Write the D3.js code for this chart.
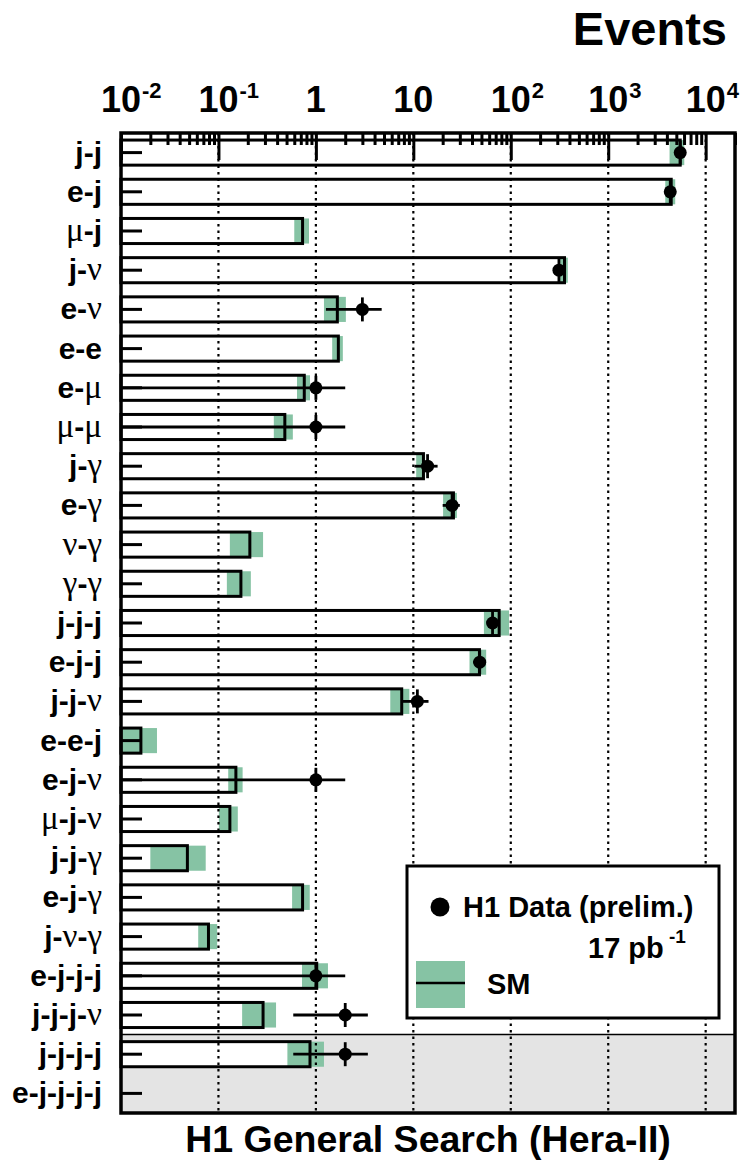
<!DOCTYPE html>
<html>
<head>
<meta charset="utf-8">
<script src="https://cdn.jsdelivr.net/npm/d3@7"></script>
<style>
  body { margin: 0; background: #fff; }
  svg { display: block; }
  text { font-family: "Liberation Sans", Arial, Helvetica, sans-serif; font-weight: bold; fill: #000; }
</style>
</head>
<body>
<div id="chart-area"></div>
<script>
/*
*    H1 General Search (Hera-II) - event yields per final state
*/

// final state categories (top to bottom)
var categories = ["j-j", "e-j", "μ-j", "j-ν", "e-ν", "e-e", "e-μ", "μ-μ", "j-γ", "e-γ",
	"ν-γ", "γ-γ", "j-j-j", "e-j-j", "j-j-ν", "e-e-j", "e-j-ν", "μ-j-ν", "j-j-γ", "e-j-γ",
	"j-ν-γ", "e-j-j-j", "j-j-j-ν", "j-j-j-j", "e-j-j-j-j"]

// SM expectation, and its uncertainty band (low / high)
var smValues = [5480, 4430, 0.73, 356, 1.66, 1.70, 0.76, 0.48, 12.7, 25.8,
	0.21, 0.17, 76, 47.7, 7.6, 0.016, 0.151, 0.131, 0.048, 0.73,
	0.079, 1.02, 0.287, 0.87, null]
var smLow = [4260, 3850, 0.60, 307, 1.21, 1.47, 0.64, 0.37, 10.7, 20.2,
	0.131, 0.122, 53, 37.7, 5.8, 0.008, 0.126, 0.101, 0.020, 0.57,
	0.062, 0.72, 0.175, 0.51, null]
var smHigh = [6030, 4870, 0.85, 385, 2.03, 1.89, 0.87, 0.58, 13.2, 28.0,
	0.287, 0.215, 96, 55.9, 9.1, 0.0234, 0.177, 0.158, 0.074, 0.865,
	0.097, 1.33, 0.39, 1.21, null]

// observed H1 data events (0 = none seen)
var dataEvents = [5480, 4330, 0, 312, 3, 0, 1, 1, 14, 25,
	0, 0, 65, 48, 11, 0, 1, 0, 0, 0,
	0, 1, 2, 2, 0]

// top axis decades
var tickExponents = [-2, -1, 0, 1, 2, 3, 4]
// rows in the shaded block at the bottom
var shadedFrom = "j-j-j-j"

var greenFill = "#86c3a4"

var margin = { left: 121, right: 15, top: 133, bottom: 55 }
var width = 750 - margin.left - margin.right,
	height = 1168 - margin.top - margin.bottom

var svg = d3.select("#chart-area")
	.append("svg")
		.attr("width", 750)
		.attr("height", 1168)
var g = svg.append("g")
	.attr("transform", "translate(" + margin.left + ", " + margin.top + ")")

// scales
var x = d3.scaleLog()
	.domain([0.01, 20000])
	.range([0, width])
var y = d3.scaleBand()
	.domain(categories)
	.range([0, height])
	.paddingInner(0.36)
	.paddingOuter(0.18)

// shaded block
var shadeTop = y(shadedFrom) - y.step() * y.paddingInner() / 2
g.append("rect")
	.attr("x", 0)
	.attr("y", shadeTop)
	.attr("width", width)
	.attr("height", height - shadeTop)
	.attr("fill", "#e4e4e4")
g.append("line")
	.attr("x1", 0).attr("x2", width)
	.attr("y1", shadeTop).attr("y2", shadeTop)
	.attr("stroke", "#000")
	.attr("stroke-width", 1.5)

var rows = categories.map((c, i) => ({
	cat: c, sm: smValues[i], lo: smLow[i], hi: smHigh[i], n: dataEvents[i]
}))
var smRows = rows.filter(d => d.sm != null)

// white bar bodies
g.selectAll(".bar-bg")
	.data(smRows)
	.enter().append("rect")
		.attr("class", "bar-bg")
		.attr("x", 0)
		.attr("y", d => y(d.cat))
		.attr("width", d => x(d.sm))
		.attr("height", y.bandwidth())
		.attr("fill", "#fff")

// SM uncertainty bands
g.selectAll(".band")
	.data(smRows)
	.enter().append("rect")
		.attr("class", "band")
		.attr("x", d => x(Math.max(d.lo, 0.01)))
		.attr("y", d => y(d.cat))
		.attr("width", d => x(d.hi) - x(Math.max(d.lo, 0.01)))
		.attr("height", y.bandwidth())
		.attr("fill", greenFill)

// dotted decade grid
g.selectAll(".grid")
	.data(tickExponents.slice(1))
	.enter().append("line")
		.attr("class", "grid")
		.attr("x1", d => x(Math.pow(10, d)))
		.attr("x2", d => x(Math.pow(10, d)))
		.attr("y1", 0)
		.attr("y2", height)
		.attr("stroke", "#000")
		.attr("stroke-width", 2.2)
		.attr("stroke-dasharray", "2.5,4")

// SM bar outlines
g.selectAll(".bar")
	.data(smRows)
	.enter().append("rect")
		.attr("class", "bar")
		.attr("x", 0)
		.attr("y", d => y(d.cat))
		.attr("width", d => x(d.sm))
		.attr("height", y.bandwidth())
		.attr("fill", "none")
		.attr("stroke", "#000")
		.attr("stroke-width", 3)

// top axis: major and minor ticks pointing inwards
var majorVals = tickExponents.map(e => Math.pow(10, e))
var minorVals = []
tickExponents.forEach(e => {
	for (var k = 2; k <= 9; k++) {
		var v = k * Math.pow(10, e)
		if (v <= 20000) minorVals.push(v)
	}
})
var majorAxis = d3.axisTop(x).tickValues(majorVals).tickSize(-27).tickFormat("")
var minorAxis = d3.axisTop(x).tickValues(minorVals).tickSize(-12).tickFormat("")
g.append("g").attr("class", "x axis").call(majorAxis)
	.call(a => a.select(".domain").remove())
	.selectAll("line").attr("stroke-width", 3)
g.append("g").attr("class", "x axis minor").call(minorAxis)
	.call(a => a.select(".domain").remove())
	.selectAll("line").attr("stroke-width", 3)

// top axis labels: 10^n with superscripts, except 1 and 10
tickExponents.forEach(e => {
	var tx = margin.left + x(Math.pow(10, e))
	if (e === 0 || e === 1) {
		svg.append("text")
			.attr("x", tx)
			.attr("y", 112)
			.attr("font-size", "36px")
			.attr("text-anchor", "middle")
			.text(e === 0 ? "1" : "10")
	} else {
		var base = svg.append("text")
			.attr("x", tx)
			.attr("y", 112)
			.attr("font-size", "36px")
			.attr("text-anchor", "middle")
			.text("10")
		var bw = base.node().getComputedTextLength()
		svg.append("text")
			.attr("x", tx + bw / 2 + 1)
			.attr("y", 98)
			.attr("font-size", "22px")
			.text(e)
	}
})

// left axis ticks
g.append("g")
	.attr("class", "y axis")
	.call(d3.axisLeft(y).tickSize(-21).tickFormat(""))
	.call(a => a.select(".domain").remove())
	.selectAll("line").attr("stroke-width", 3)

// row labels, greek letters in a serif face
var greek = /[μνγ]/
categories.forEach(c => {
	var t = svg.append("text")
		.attr("x", 102)
		.attr("y", margin.top + y(c) + y.bandwidth() / 2 + 10)
		.attr("text-anchor", "end")
		.attr("font-size", "30px")
	Array.from(c).forEach(ch => {
		var s = t.append("tspan").text(ch)
		if (greek.test(ch)) {
			s.style("font-family", "'Liberation Serif', 'DejaVu Serif', serif")
				.style("font-weight", "normal")
				.attr("font-size", "33px")
		}
	})
})

// data points with sqrt(N) errors
var dataRows = rows.filter(d => d.n > 0)
var pts = g.selectAll(".pt")
	.data(dataRows)
	.enter().append("g")
		.attr("class", "pt")
		.attr("transform", d => "translate(0," + (y(d.cat) + y.bandwidth() / 2) + ")")
pts.append("line")
	.attr("x1", d => x(Math.max(d.n - Math.sqrt(d.n), 0.01)))
	.attr("x2", d => x(d.n + Math.sqrt(d.n)))
	.attr("stroke", "#000")
	.attr("stroke-width", 2.8)
pts.append("line")
	.attr("x1", d => x(d.n))
	.attr("x2", d => x(d.n))
	.attr("y1", -12)
	.attr("y2", 12)
	.attr("stroke", "#000")
	.attr("stroke-width", 2.8)
pts.append("circle")
	.attr("cx", d => x(d.n))
	.attr("r", 6.5)
	.attr("fill", "#000")

// frame
g.append("rect")
	.attr("width", width)
	.attr("height", height)
	.attr("fill", "none")
	.attr("stroke", "#000")
	.attr("stroke-width", 3.5)

// legend
var legend = svg.append("g")
legend.append("rect")
	.attr("x", 407).attr("y", 866)
	.attr("width", 312).attr("height", 152)
	.attr("fill", "#fff")
	.attr("stroke", "#000")
	.attr("stroke-width", 3)
legend.append("circle")
	.attr("cx", 440).attr("cy", 907).attr("r", 9.5)
	.attr("fill", "#000")
legend.append("text")
	.attr("x", 463).attr("y", 917)
	.attr("font-size", "29px")
	.text("H1 Data (prelim.)")
legend.append("text")
	.attr("x", 588).attr("y", 958)
	.attr("font-size", "29px")
	.text("17 pb")
legend.append("text")
	.attr("x", 669).attr("y", 943)
	.attr("font-size", "19px")
	.text("-1")
legend.append("rect")
	.attr("x", 416).attr("y", 961)
	.attr("width", 49).attr("height", 47)
	.attr("fill", greenFill)
legend.append("line")
	.attr("x1", 416).attr("x2", 465)
	.attr("y1", 983).attr("y2", 983)
	.attr("stroke", "#000")
	.attr("stroke-width", 2.5)
legend.append("text")
	.attr("x", 487).attr("y", 994)
	.attr("font-size", "29px")
	.text("SM")

// titles
svg.append("text")
	.attr("x", 727)
	.attr("y", 45)
	.attr("font-size", "47px")
	.attr("text-anchor", "end")
	.text("Events")
svg.append("text")
	.attr("x", margin.left + width / 2)
	.attr("y", 1152)
	.attr("font-size", "37.5px")
	.attr("text-anchor", "middle")
	.text("H1 General Search (Hera-II)")
</script>
</body>
</html>
